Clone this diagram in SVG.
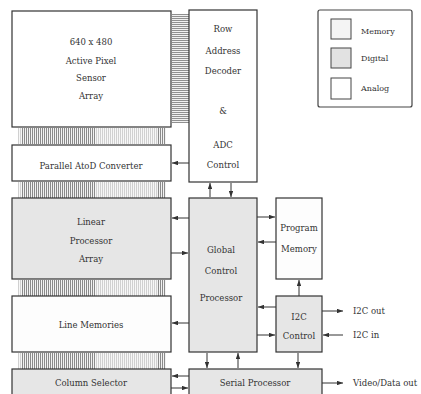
<svg xmlns="http://www.w3.org/2000/svg" width="421" height="394" viewBox="0 0 421 394">
<defs>
<style>
.box{stroke:#333;stroke-width:1.2;fill:#fff}
.dig{fill:#e6e6e6}
.mem{fill:#fdfdfd}
.t{font-family:"DejaVu Serif","Liberation Serif",serif;font-size:8.5px;fill:#333;text-anchor:middle}
.l{font-family:"DejaVu Serif","Liberation Serif",serif;font-size:8px;fill:#333}
.o{font-family:"DejaVu Serif","Liberation Serif",serif;font-size:8.5px;fill:#333}
.c{stroke:#333;stroke-width:1;fill:none;marker-end:url(#ah)}
</style>
<marker id="ah" viewBox="0 0 8 6" refX="8" refY="3" markerWidth="6" markerHeight="4.5" orient="auto" markerUnits="userSpaceOnUse">
<path d="M0,0 L8,3 L0,6 z" fill="#333"/>
</marker>
<pattern id="vd" width="2" height="4" patternUnits="userSpaceOnUse"><rect width="2" height="4" fill="#f2f2f2"/><rect width="1" height="4" fill="#8a8a8a"/></pattern>
<pattern id="vl" width="2" height="4" patternUnits="userSpaceOnUse"><rect width="2" height="4" fill="#f7f7f7"/><rect width="1" height="4" fill="#d0d0d0"/></pattern>
<pattern id="hd" width="4" height="2" patternUnits="userSpaceOnUse"><rect width="4" height="2" fill="#f0f0f0"/><rect width="4" height="1" fill="#8f8f8f"/></pattern>
<g id="busrow">
<rect x="18" y="0" width="4" height="16" fill="url(#vl)"/>
<rect x="22" y="0" width="73" height="16" fill="url(#vd)"/>
<rect x="95" y="0" width="62" height="16" fill="url(#vl)"/>
<rect x="157" y="0" width="9" height="16" fill="url(#vd)"/>
</g>
</defs>

<g id="buses">
<use href="#busrow" y="128"/>
<use href="#busrow" y="182"/>
<use href="#busrow" y="280"/>
<use href="#busrow" y="353"/>
<rect x="172" y="14" width="17" height="109" fill="url(#hd)"/>
</g>

<g id="pixel-array">
<rect class="box" x="12" y="11" width="159" height="116"/>
<text class="t" x="91" y="45">640 x 480</text>
<text class="t" x="91" y="64">Active Pixel</text>
<text class="t" x="91" y="81">Sensor</text>
<text class="t" x="91" y="99">Array</text>
</g>

<g id="row-decoder">
<rect class="box" x="189" y="10" width="68" height="172"/>
<text class="t" x="223" y="32">Row</text>
<text class="t" x="223" y="54">Address</text>
<text class="t" x="223" y="74">Decoder</text>
<text class="t" x="223" y="114">&amp;</text>
<text class="t" x="223" y="148">ADC</text>
<text class="t" x="223" y="168">Control</text>
</g>

<g id="atod">
<rect class="box" x="12" y="145" width="159" height="36"/>
<text class="t" x="91" y="169">Parallel AtoD Converter</text>
</g>

<g id="linear-processor">
<rect class="box dig" x="12" y="198" width="159" height="81"/>
<text class="t" x="91" y="225">Linear</text>
<text class="t" x="91" y="244">Processor</text>
<text class="t" x="91" y="262">Array</text>
</g>

<g id="line-memories">
<rect class="box mem" x="12" y="296" width="159" height="56"/>
<text class="t" x="91" y="328">Line Memories</text>
</g>

<g id="column-selector">
<rect class="box dig" x="12" y="369" width="159" height="30"/>
<text class="t" x="91" y="386">Column Selector</text>
</g>

<g id="global-control">
<rect class="box dig" x="189" y="198" width="68" height="154"/>
<text class="t" x="221" y="253">Global</text>
<text class="t" x="221" y="274">Control</text>
<text class="t" x="221" y="301">Processor</text>
</g>

<g id="program-memory">
<rect class="box mem" x="276" y="198" width="46" height="81"/>
<text class="t" x="299" y="231">Program</text>
<text class="t" x="299" y="252">Memory</text>
</g>

<g id="i2c-control">
<rect class="box dig" x="276" y="296" width="46" height="56"/>
<text class="t" x="299" y="320">I2C</text>
<text class="t" x="299" y="339">Control</text>
</g>

<g id="serial-processor">
<rect class="box dig" x="189" y="369" width="133" height="30"/>
<text class="t" x="255" y="386">Serial Processor</text>
</g>

<g id="legend">
<rect x="318" y="10" width="94" height="97" rx="2" fill="#fff" stroke="#444" stroke-width="1.2"/>
<rect x="331" y="19" width="20" height="20" fill="#f4f4f4" stroke="#444"/>
<rect x="331" y="48" width="20" height="20" fill="#e2e2e2" stroke="#444"/>
<rect x="331" y="78" width="20" height="21" fill="#fff" stroke="#444"/>
<text class="l" x="361" y="34">Memory</text>
<text class="l" x="361" y="61">Digital</text>
<text class="l" x="361" y="91">Analog</text>
</g>

<g id="connectors">
<path class="c" d="M189,163 H172"/>
<path class="c" d="M210,197 V183"/>
<path class="c" d="M231,183 V197"/>
<path class="c" d="M189,218 H172"/>
<path class="c" d="M171,253 H188"/>
<path class="c" d="M189,323 H172"/>
<path class="c" d="M189,376 H172"/>
<path class="c" d="M171,388 H188"/>
<path class="c" d="M257,217 H275"/>
<path class="c" d="M276,242 H258"/>
<path class="c" d="M299,296 V280"/>
<path class="c" d="M276,307 H258"/>
<path class="c" d="M257,335 H275"/>
<path class="c" d="M207,353 V368"/>
<path class="c" d="M238,368 V353"/>
<path class="c" d="M298,353 V368"/>
<path class="c" d="M322,311 H343"/>
<path class="c" d="M343,335 H323"/>
<path class="c" d="M322,383 H343"/>
</g>

<g id="labels">
<text class="o" x="353" y="314">I2C out</text>
<text class="o" x="353" y="338">I2C in</text>
<text class="o" x="353" y="386">Video/Data out</text>
</g>
</svg>
